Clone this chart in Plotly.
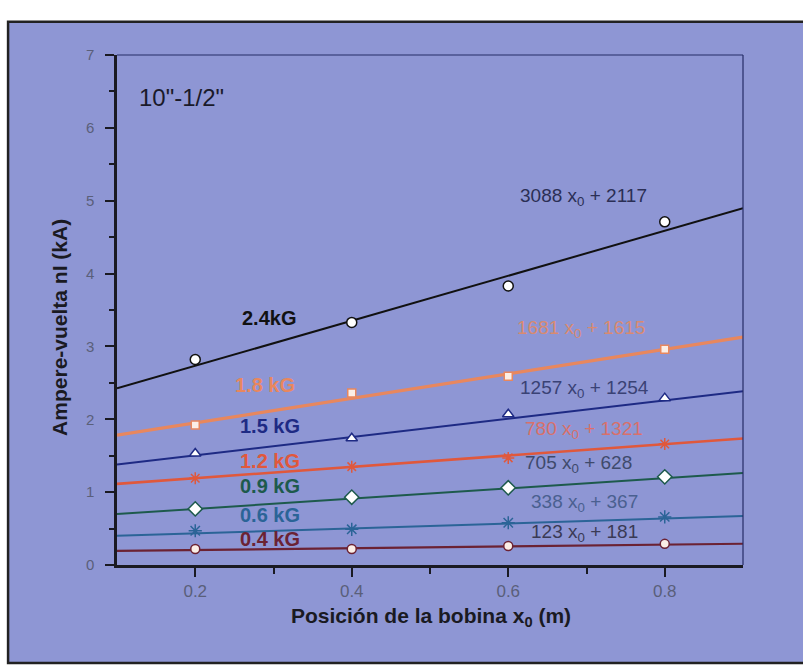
import plotly.graph_objects as go
import numpy as np

# ---- data ----
x_pos = [0.2, 0.4, 0.6, 0.8]
field_labels = ["2.4kG", "1.8 kG", "1.5 kG", "1.2 kG", "0.9 kG", "0.6 kG", "0.4 kG"]
ni_24 = [2.82, 3.33, 3.83, 4.71]
ni_18 = [1.92, 2.36, 2.59, 2.96]
ni_15 = [1.53, 1.74, 2.07, 2.29]
ni_12 = [1.19, 1.35, 1.47, 1.66]
ni_09 = [0.77, 0.93, 1.06, 1.21]
ni_06 = [0.47, 0.49, 0.58, 0.66]
ni_04 = [0.22, 0.22, 0.26, 0.29]
fit_slope = [3.088, 1.68, 1.257, 0.78, 0.705, 0.338, 0.123]
fit_intercept = [2.117, 1.615, 1.254, 1.035, 0.628, 0.367, 0.181]
fit_labels = ["3088 x<sub>0</sub> + 2117", "1681 x<sub>0</sub> + 1615",
              "1257 x<sub>0</sub> + 1254", "780 x<sub>0</sub> + 1321",
              "705 x<sub>0</sub> + 628", "338 x<sub>0</sub> + 367",
              "123 x<sub>0</sub> + 181"]
x_ticks = [0.2, 0.4, 0.6, 0.8]
y_ticks = [0, 1, 2, 3, 4, 5, 6, 7]

series = [ni_24, ni_18, ni_15, ni_12, ni_09, ni_06, ni_04]

# ---- styles ----
line_colors = ["#111111", "#e8875e", "#1e2a84", "#e0583c", "#1d5a4c", "#2b6497", "#6b2233"]
line_widths = [2, 3.2, 2, 2.6, 2, 2, 2.2]
lbl_colors = ["#111111", "#e8875e", "#1e2a84", "#e0583c", "#1d5a4c", "#2b6497", "#6b2233"]
eq_colors = ["#2b2f55", "#d98a70", "#3a4275", "#d9706a", "#3f4a6c", "#4a6090", "#3a3a55"]
symbols = ["circle", "square", "triangle-up", "asterisk-open", "diamond", "asterisk-open", "circle"]
msizes = [10, 8, 10, 10, 11, 11, 9]
fills = ["white", "#fbeee6", "white", "#e0583c", "white", "#2b6497", "#fbeee6"]

fig = go.Figure()
xl = np.array([0.1, 0.9])
for i, ys in enumerate(series):
    fig.add_trace(go.Scatter(x=xl, y=fit_slope[i] * xl + fit_intercept[i], mode="lines",
                             line=dict(color=line_colors[i], width=line_widths[i]),
                             showlegend=False, hoverinfo="skip"))
    fig.add_trace(go.Scatter(x=x_pos, y=ys, mode="markers", showlegend=False,
                             marker=dict(symbol=symbols[i], size=msizes[i], color=fills[i],
                                         line=dict(color=line_colors[i], width=1.5))))

# label positions (data coords)
lbl_pos = [(0.294, 3.39), (0.289, 2.47), (0.295, 1.91), (0.295, 1.43),
           (0.295, 1.08), (0.295, 0.68), (0.295, 0.36)]
eq_pos = [(0.696, 5.05), (0.693, 3.24), (0.698, 2.42), (0.697, 1.85),
          (0.690, 1.39), (0.697, 0.85), (0.697, 0.44)]
FONT = "Liberation Sans, Arial"
ann = []
for i in range(7):
    ann.append(dict(x=lbl_pos[i][0], y=lbl_pos[i][1], text="<b>%s</b>" % field_labels[i],
                    showarrow=False, font=dict(size=20, color=lbl_colors[i], family=FONT)))
    ann.append(dict(x=eq_pos[i][0], y=eq_pos[i][1], text=fit_labels[i], showarrow=False,
                    font=dict(size=19, color=eq_colors[i], family=FONT)))
ann.append(dict(x=0.1255, y=6.42, text='10"-1/2"', xanchor="left", showarrow=False,
                font=dict(size=24, color="#1a1a2a", family=FONT)))
ann.append(dict(x=0.5016, y=-0.102, xref="paper", yref="paper", showarrow=False,
                xanchor="center", yanchor="middle",
                text="<b>Posición de la bobina x<sub>0</sub> (m)</b>",
                font=dict(size=21, color="#1a1a22", family=FONT)))
ann.append(dict(x=-0.091, y=0.465, xref="paper", yref="paper", showarrow=False, textangle=-90,
                xanchor="center", yanchor="middle",
                text="<b>Ampere-vuelta nI (kA)</b>",
                font=dict(size=21, color="#1a1a22", family=FONT)))

shapes = [
    dict(type="rect", xref="paper", yref="paper", x0=-0.174, x1=1.12, y0=-0.192, y1=1.065,
         fillcolor="#8e96d4", line=dict(color="#222222", width=2.5), layer="below"),
    dict(type="line", xref="paper", yref="paper", x0=0, x1=1, y0=1, y1=1,
         line=dict(color="#252c66", width=1.2)),
    dict(type="line", xref="paper", yref="paper", x0=1, x1=1, y0=0, y1=1,
         line=dict(color="#252c66", width=1.2)),
]

fig.update_layout(
    width=803, height=668,
    margin=dict(l=117, r=60, t=55, b=103),
    paper_bgcolor="white", plot_bgcolor="rgba(0,0,0,0)",
    annotations=ann, shapes=shapes, showlegend=False,
    font=dict(family=FONT),
)
fig.update_xaxes(range=[0.1, 0.9], tickvals=x_ticks, ticktext=[str(v) for v in x_ticks],
                 ticks="outside", ticklen=9, tickwidth=2, tickcolor="#1a1a22",
                 showline=True, linecolor="#1a1a22", linewidth=2.5, showgrid=False, zeroline=False,
                 tickfont=dict(size=17, color="#5a5f7a"),
                 minor=dict(tickvals=[0.3, 0.5, 0.7], ticks="outside", ticklen=6,
                            tickwidth=2, tickcolor="#1a1a22"))
fig.update_yaxes(range=[0, 7], tickvals=y_ticks, ticks="outside", ticklen=9, tickwidth=1.5,
                 tickcolor="#1a1a22", showline=True, linecolor="#1a1a22", linewidth=2.5,
                 showgrid=False, zeroline=False, tickfont=dict(size=15, color="#5a5f7a"),
                 ticklabelstandoff=8,
                 minor=dict(tickvals=[0.5, 1.5, 2.5, 3.5, 4.5, 5.5, 6.5], ticks="outside",
                            ticklen=5, tickwidth=1.5, tickcolor="#1a1a22"))

fig.write_html("out.html", config={"displayModeBar": False},
               post_script="document.body.style.margin='0';document.body.style.padding='0';")
